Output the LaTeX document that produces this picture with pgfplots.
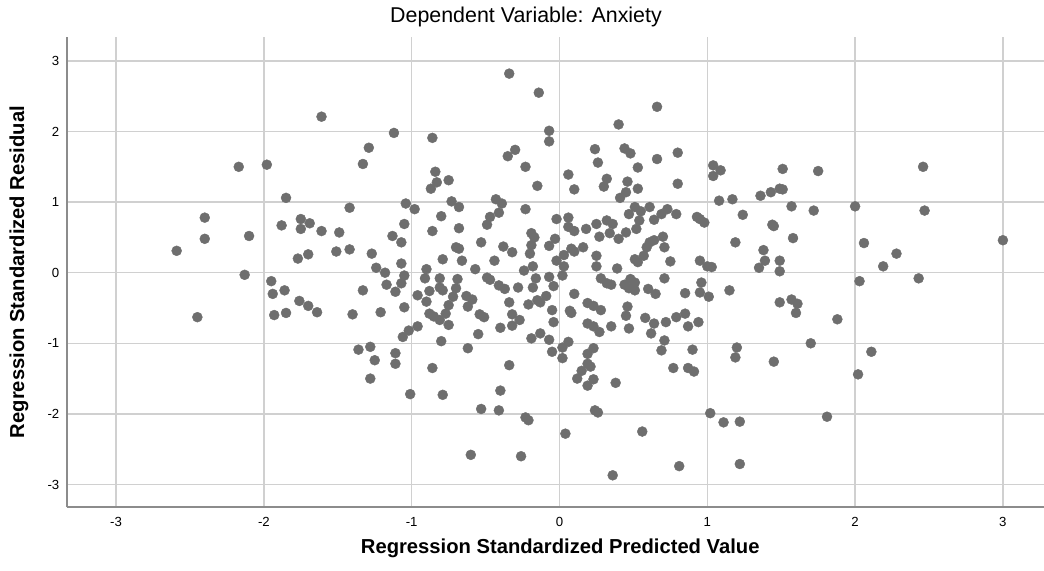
\documentclass[border=0pt]{standalone}
\usepackage{pgfplots}
\pgfplotsset{compat=1.18}
\usepackage{fontspec}
\setmainfont{Liberation Sans}
\definecolor{dotgray}{RGB}{110,110,110}
\definecolor{gridgray}{RGB}{208,208,208}
\definecolor{axisgray}{RGB}{140,140,140}
\begin{document}
\begin{tikzpicture}
\useasboundingbox (0,0) rectangle (522pt,285.5pt);
\begin{axis}[
  at={(33.35pt,31.85pt)}, anchor=south west,
  scale only axis, width=488.65pt, height=235.3pt,
  xmin=-3.334, xmax=3.278, ymin=-3.323, ymax=3.343,
  axis x line*=bottom, axis y line*=left,
  axis line style={draw=axisgray, line width=1pt, -},
  grid=major, grid style={draw=gridgray, line width=0.65pt},
  major tick length=0pt,
  xtick={-3,-2,-1,0,1,2,3}, ytick={-3,-2,-1,0,1,2,3},
  xticklabels={-3,-2,-1,0,1,2,3}, yticklabels={-3,-2,-1,0,1,2,3},
  ticklabel style={font=\fontsize{6.6}{7}\selectfont, text=black},
  xticklabel style={anchor=center, yshift=-7.5pt},
  yticklabel style={anchor=east, inner sep=0pt, xshift=-3.5pt},
  xlabel={Regression Standardized Predicted Value},
  xlabel style={at={(axis description cs:0.505,-0.0865)}, anchor=center, font=\fontsize{10.1}{12}\selectfont\bfseries},
  ylabel={Regression Standardized Residual},
  ylabel style={at={(axis description cs:-0.0488,0.5)}, anchor=center, font=\fontsize{10.1}{12}\selectfont\bfseries},
]
\addplot[only marks, mark=*, mark size=2.5pt, mark options={fill=dotgray, draw=dotgray, line width=0.2pt}] coordinates {
(-2.40,0.78) (-2.40,0.48) (-2.59,0.31) (-2.45,-0.63)
(-1.61,2.21) (-1.12,1.98) (-1.29,1.77) (-1.33,1.54) (-2.17,1.50) (-1.98,1.53) (-1.85,1.06) (-1.42,0.92) (-2.10,0.52) (-1.88,0.67) (-1.75,0.76) (-1.69,0.70) (-1.75,0.62) (-1.61,0.59) (-1.49,0.57) (-1.51,0.30) (-1.42,0.33) (-1.77,0.20) (-1.70,0.26) (-1.13,0.52) (-1.27,0.27) (-1.24,0.07) (-1.18,0.00) (-2.13,-0.03) (-1.95,-0.12) (-1.94,-0.30) (-1.86,-0.25) (-1.76,-0.40) (-1.70,-0.47) (-1.64,-0.56) (-1.93,-0.60) (-1.85,-0.57) (-1.40,-0.59) (-1.33,-0.25) (-1.21,-0.56) (-1.17,-0.17) (-1.36,-1.09) (-1.28,-1.05) (-1.25,-1.24) (-1.28,-1.50) (-1.11,-1.14) (-1.11,-1.29)
(-0.34,2.82) (-0.14,2.55) (-0.86,1.91) (-0.07,2.01) (-0.07,1.86) (-0.35,1.65) (-0.30,1.74) (-0.23,1.50) (-0.15,1.23) (-0.84,1.43) (-0.83,1.28) (-0.87,1.19) (-0.75,1.31) (-1.04,0.98) (-0.98,0.90) (-0.73,1.01) (-0.68,0.93) (-0.80,0.80) (-1.05,0.69) (-0.86,0.59) (-0.68,0.63) (-1.07,0.43) (-0.70,0.36) (-0.68,0.34) (-0.79,0.19) (-0.66,0.17) (-1.07,0.13) (-1.05,-0.04) (-1.07,-0.15) (-1.11,-0.27) (-0.90,0.05) (-0.91,-0.08) (-0.81,-0.08) (-0.69,-0.09) (-0.88,-0.26) (-0.90,-0.41) (-0.81,-0.21) (-0.79,-0.25) (-0.70,-0.22) (-0.72,-0.34) (-0.96,-0.32) (-1.05,-0.49) (-0.75,-0.46) (-0.77,-0.58) (-0.88,-0.58) (-0.85,-0.62) (-0.81,-0.67) (-0.75,-0.74) (-0.96,-0.76) (-1.02,-0.82) (-1.06,-0.91) (-0.80,-0.97) (-0.62,-1.07) (-0.86,-1.35) (-1.01,-1.72) (-0.79,-1.73) (-0.63,-0.33) (-0.59,-0.38) (-0.62,-0.48) (-0.57,0.05) (-0.53,0.43) (-0.54,-0.59) (-0.51,-0.63) (-0.55,-0.87) (-0.53,-1.93) (-0.60,-2.58) (-0.49,0.68) (-0.47,0.79) (-0.43,1.04) (-0.39,0.98) (-0.41,0.85) (-0.38,0.37) (-0.32,0.29) (-0.44,0.17) (-0.49,-0.07) (-0.47,-0.10) (-0.41,-0.18) (-0.37,-0.23) (-0.28,-0.21) (-0.34,-0.42) (-0.32,-0.59) (-0.27,-0.67) (-0.32,-0.75) (-0.40,-0.78) (-0.34,-1.31) (-0.40,-1.67) (-0.41,-1.95) (-0.23,-2.05) (-0.21,-2.09) (-0.26,-2.60) (-0.23,0.90) (-0.19,0.56) (-0.17,0.50) (-0.19,0.39) (-0.20,0.27) (-0.18,0.09) (-0.24,0.03) (-0.16,-0.08) (-0.18,-0.21) (-0.21,-0.45) (-0.15,-0.39) (-0.13,-0.42) (-0.05,-0.53) (-0.04,-0.70) (-0.19,-0.93) (-0.13,-0.86) (-0.07,-0.95) (-0.05,-1.12) (-0.07,0.38) (-0.03,0.48) (-0.07,-0.06) (-0.04,-0.19) (-0.09,-0.33)
(0.66,2.35) (0.40,2.10) (0.24,1.75) (0.26,1.56) (0.44,1.76) (0.48,1.69) (0.66,1.61) (0.80,1.70) (0.53,1.49) (0.06,1.39) (0.10,1.18) (0.32,1.33) (0.30,1.22) (0.46,1.29) (0.45,1.14) (0.53,1.19) (0.41,1.06) (0.80,1.26) (-0.02,0.76) (0.06,0.78) (0.06,0.65) (0.10,0.59) (0.18,0.62) (0.25,0.69) (0.32,0.74) (0.36,0.69) (0.27,0.51) (0.34,0.56) (0.40,0.48) (0.45,0.57) (0.51,0.93) (0.55,0.87) (0.47,0.83) (0.54,0.74) (0.52,0.62) (0.61,0.93) (0.64,0.75) (0.69,0.83) (0.73,0.90) (0.79,0.83) (0.93,0.79) (0.98,0.71) (0.95,0.76) (-0.02,0.17) (0.03,0.25) (0.03,0.09) (0.02,-0.04) (0.08,0.34) (0.10,0.30) (0.16,0.36) (0.25,0.24) (0.25,0.09) (0.39,0.06) (0.61,0.43) (0.64,0.46) (0.70,0.51) (0.59,0.36) (0.57,0.24) (0.53,0.15) (0.51,0.19) (0.71,0.36) (0.75,0.16) (0.95,0.17) (1.00,0.09) (1.03,0.08) (0.28,-0.08) (0.32,-0.15) (0.35,-0.17) (0.44,-0.17) (0.48,-0.09) (0.51,-0.14) (0.47,-0.22) (0.51,-0.25) (0.60,-0.23) (0.65,-0.30) (0.71,-0.08) (0.85,-0.29) (0.96,-0.14) (0.95,-0.28) (1.01,-0.34) (0.10,-0.30) (0.07,-0.54) (0.08,-0.57) (0.19,-0.43) (0.23,-0.47) (0.28,-0.53) (0.46,-0.48) (0.45,-0.61) (0.47,-0.79) (0.19,-0.72) (0.23,-0.76) (0.27,-0.84) (0.35,-0.76) (0.58,-0.64) (0.64,-0.72) (0.62,-0.86) (0.72,-0.70) (0.79,-0.63) (0.85,-0.58) (0.87,-0.76) (0.94,-0.70) (0.71,-0.96) (0.69,-1.10) (0.90,-1.09) (0.77,-1.35) (0.87,-1.35) (0.91,-1.40) (0.06,-0.98) (0.02,-1.06) (0.02,-1.21) (0.23,-1.07) (0.19,-1.15) (0.19,-1.29) (0.21,-1.33) (0.15,-1.39) (0.12,-1.50) (0.19,-1.60) (0.23,-1.51) (0.38,-1.56) (0.24,-1.95) (0.26,-1.98) (0.04,-2.28) (0.56,-2.25) (0.36,-2.87) (0.81,-2.74) (1.02,-1.99) (1.04,1.52) (1.04,1.37)
(1.09,1.45) (1.51,1.47) (1.75,1.44) (1.08,1.02) (1.17,1.04) (1.36,1.09) (1.43,1.14) (1.49,1.19) (1.51,1.18) (1.57,0.94) (1.72,0.88) (2.00,0.94) (1.24,0.82) (1.44,0.68) (1.45,0.66) (1.19,0.43) (1.58,0.49) (1.38,0.32) (1.39,0.17) (1.35,0.07) (1.49,0.17) (1.49,0.02) (2.06,0.42) (2.03,-0.12) (1.15,-0.25) (1.49,-0.42) (1.57,-0.38) (1.61,-0.44) (1.60,-0.57) (1.88,-0.66) (1.70,-1.00) (1.20,-1.06) (1.19,-1.20) (1.45,-1.26) (2.11,-1.12) (2.02,-1.44) (1.11,-2.12) (1.22,-2.11) (1.81,-2.04) (1.22,-2.71)
(2.46,1.50) (2.47,0.88) (3.00,0.46) (2.28,0.27) (2.19,0.09) (2.43,-0.08)
};
\end{axis}
\node[font=\fontsize{10.7}{12}\selectfont, anchor=center, inner sep=0pt] at (263pt,277pt) {Dependent Variable: Anxiety};
\end{tikzpicture}
\end{document}
